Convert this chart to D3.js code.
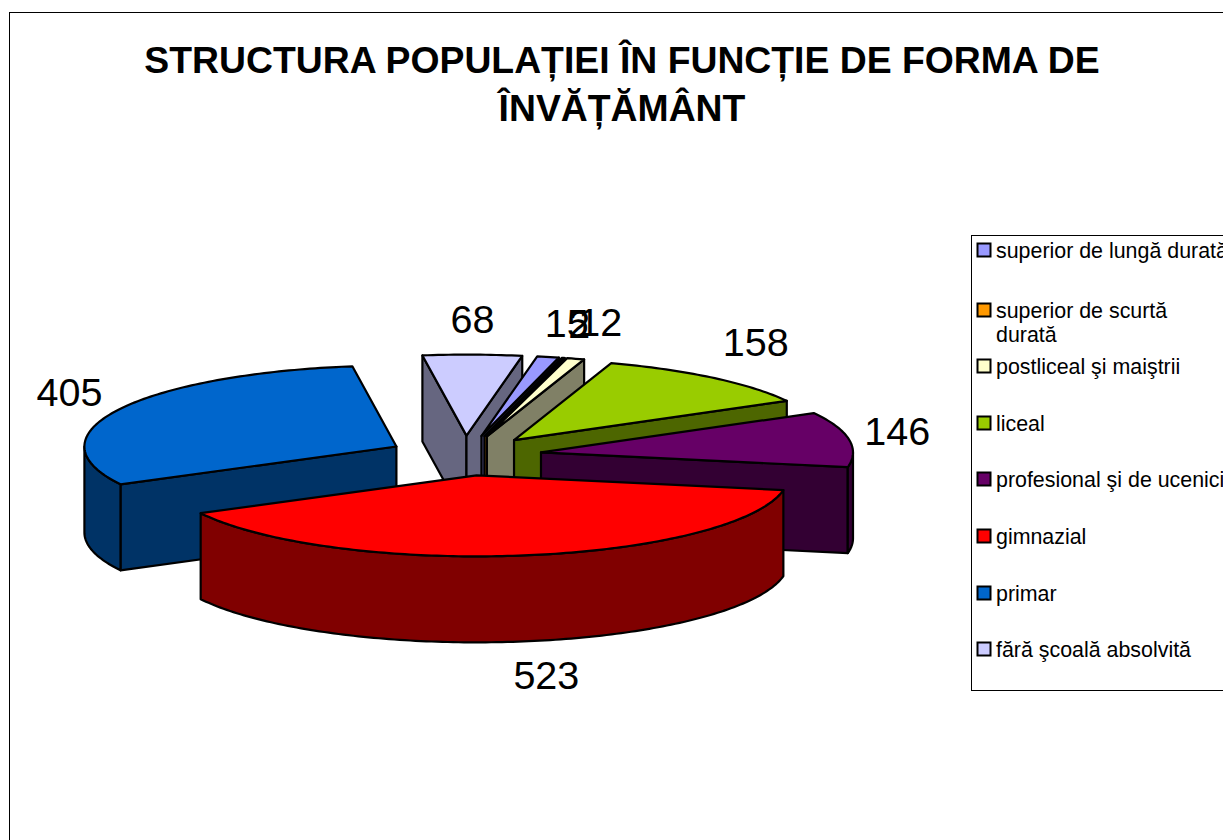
<!DOCTYPE html>
<html><head><meta charset="utf-8">
<script src="https://cdn.jsdelivr.net/npm/d3@7"></script>
<style>html,body{margin:0;padding:0;background:#fff;overflow:hidden}svg{display:block}text{font-family:"Liberation Sans",Arial,sans-serif;fill:#000}</style>
</head><body><svg id="c" width="1223" height="840"></svg>
<script>
const titleLines = ["STRUCTURA POPULAȚIEI ÎN FUNCȚIE DE FORMA DE", "ÎNVĂȚĂMÂNT"];
const categories = ["superior de lungă durată","superior de scurtă durată","postliceal şi maiştrii","liceal","profesional şi de ucenici","gimnazial","primar","fără şcoală absolvită"];
const legendLines = [["superior de lungă durată"],["superior de scurtă","durată"],["postliceal şi maiştrii"],["liceal"],["profesional şi de ucenici"],["gimnazial"],["primar"],["fără şcoală absolvită"]];
const values = [15,2,12,158,146,523,405,68];
const topColors = ["#9999FF","#FF9900","#FFFFCC","#99CC00","#660066","#FF0000","#0066CC","#CCCCFF"];
const sideColors = ["#4D4D80","#804D00","#808066","#4D6600","#330033","#800000","#003366","#666680"];
const paintOrder = [7,0,1,2,3,4,6,5];

const svg = d3.select("#c");
const color = d3.scaleOrdinal().domain(categories).range(topColors);
const side = d3.scaleOrdinal().domain(categories).range(sideColors);

// chart frame
svg.append("rect").attr("x",9.5).attr("y",12.5).attr("width",1400).attr("height",1000).attr("fill","#fff").attr("stroke","#000");

// title
svg.selectAll("text.title").data(titleLines).join("text").attr("class","title")
  .attr("x",622).attr("y",(d,i)=>73+i*48).attr("text-anchor","middle")
  .attr("font-size",37.35).attr("font-weight","bold").text(d=>d);

// pie geometry
const cx=465, cy=455.6, rx=312, ry=81, depth=86, explode=77;
const rad = Math.PI/180;
const start = 10.3*rad;
const arcs = d3.pie().sort(null).value(d=>d).startAngle(start).endAngle(start+2*Math.PI)(values)
  .map((a,i)=>({...a,i,name:categories[i]}));
const sx = d3.scaleLinear().domain([-1,1]).range([-rx,rx]);
const sy = d3.scaleLinear().domain([-1,1]).range([-ry,ry]);
const line = d3.line();
// d3.pie angles run clockwise from 12 o'clock
const ca = t=>Math.sin(t), sa = t=>-Math.cos(t);
function origin(d){const m=(d.startAngle+d.endAngle)/2, k=explode/rx;return [cx+sx(ca(m)*k),cy+sy(sa(m)*k)];}
function pt(d,t,dz=0){const o=origin(d);return [o[0]+sx(ca(t)),o[1]+sy(sa(t))+dz];}
function rim(d,a,b,dz=0){const n=Math.max(2,Math.ceil((b-a)/rad));return d3.range(n+1).map(i=>pt(d,a+(b-a)*i/n,dz));}

const g = svg.append("g");
const slices = g.selectAll("g.slice").data(paintOrder.map(i=>arcs[i])).join("g").attr("class","slice")
  .attr("stroke","#000").attr("stroke-width",2.2).attr("stroke-linejoin","round");
slices.each(function(d){
  const s=d3.select(this), o=origin(d), dark=side(d.name);
  const cut=t=>{const p=pt(d,t);return line([o,p,[p[0],p[1]+depth],[o[0],o[1]+depth]])+"Z";};
  // faces turned towards the viewer
  if(Math.cos(d.startAngle-Math.PI/2)<0) s.append("path").attr("d",cut(d.startAngle)).attr("fill",dark);
  if(Math.cos(d.endAngle-Math.PI/2)>0) s.append("path").attr("d",cut(d.endAngle)).attr("fill",dark);
  // outer wall: the parts whose screen direction points down
  [[Math.PI/2,3*Math.PI/2],[Math.PI/2+2*Math.PI,3*Math.PI/2+2*Math.PI]].forEach(w=>{
    const a=Math.max(d.startAngle,w[0]), b=Math.min(d.endAngle,w[1]);
    if(b>a){ s.append("path").attr("d",line(rim(d,a,b).concat(rim(d,a,b,depth).reverse()))+"Z").attr("fill",dark); }
  });
  s.append("path").attr("d",line([o].concat(rim(d,d.startAngle,d.endAngle)))+"Z").attr("fill",color(d.name));
});

// data labels
const labelNudge=[[7,-2],[2,-2],[9,-5],[8,-10],[-6,-3],[14.5,1],[0,-3],[-1,-3]];
svg.selectAll("text.val").data(arcs).join("text").attr("class","val")
  .attr("font-size",39.5).attr("text-anchor","middle").attr("dominant-baseline","central")
  .attr("x",d=>{const m=(d.startAngle+d.endAngle)/2;return pt(d,m)[0]+ca(m)*55+labelNudge[d.i][0];})
  .attr("y",d=>{const m=(d.startAngle+d.endAngle)/2;return pt(d,m)[1]+(sa(m)>0?depth:0)+sa(m)*33+labelNudge[d.i][1];})
  .text(d=>d.value);

// legend
svg.append("rect").attr("x",971.5).attr("y",235.5).attr("width",400).attr("height",455).attr("fill","#fff").attr("stroke","#000");
const rowY=[250,310,366,423,479,536,593,649];
const lg=svg.selectAll("g.lg").data(categories).join("g").attr("class","lg")
  .attr("transform",(d,i)=>`translate(977,${rowY[i]})`);
lg.append("rect").attr("x",0.5).attr("y",-6.5).attr("width",13).attr("height",13)
  .attr("fill",d=>color(d)).attr("stroke","#000").attr("stroke-width",2);
lg.each(function(d,i){
  d3.select(this).selectAll("text").data(legendLines[i]).join("text")
    .attr("x",19).attr("y",(t,j)=>7.5+j*24).attr("font-size",21.4).text(t=>t);
});
</script></body></html>
